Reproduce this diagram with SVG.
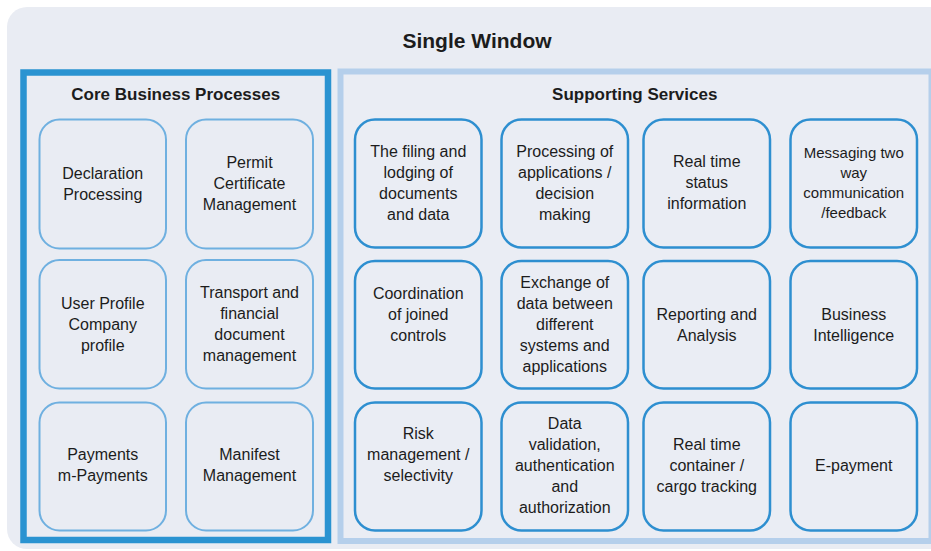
<svg xmlns="http://www.w3.org/2000/svg" width="931" height="551" viewBox="0 0 931 551">
<style>
  text { font-family: "Liberation Sans", Arial, sans-serif; fill: #1c1c1c; text-anchor: middle; }
  .t { font-size: 16px; }
  .sm { font-size: 15px; }
  .h { font-size: 17px; font-weight: bold; }
  .title { font-size: 21px; font-weight: bold; }
  .core { fill: none; stroke: #6fb0e0; stroke-width: 2; }
  .sup { fill: none; stroke: #2e8fd0; stroke-width: 2.5; }
</style>
<rect x="0" y="0" width="931" height="551" fill="#ffffff"/>
<g id="single-window">
  <rect x="7" y="7" width="944" height="542" rx="20" ry="20" fill="#e9ecf3"/>
  <text class="title" x="477" y="48">Single Window</text>
</g>
<g id="core-business-processes">
  <rect x="23.5" y="72.5" width="304.5" height="467.5" fill="#e9ecf3" stroke="#2a93d1" stroke-width="6.5"/>
  <text class="h" x="175.75" y="100">Core Business Processes</text>
</g>
<g id="supporting-services">
  <rect x="340.5" y="71.5" width="591" height="469.5" fill="#eaedf4" stroke="#b5cfeb" stroke-width="6"/>
  <text class="h" x="634.75" y="100">Supporting Services</text>
</g>
<g id="declaration-processing">
  <rect class="core" x="39.5" y="119.5" width="126.5" height="129" rx="20"/>
  <text class="t" x="102.75" y="179">Declaration</text>
  <text class="t" x="102.75" y="200">Processing</text>
</g>
<g id="permit-certificate-management">
  <rect class="core" x="186" y="119.5" width="127" height="129" rx="20"/>
  <text class="t" x="249.5" y="168">Permit</text>
  <text class="t" x="249.5" y="189">Certificate</text>
  <text class="t" x="249.5" y="210">Management</text>
</g>
<g id="user-profile">
  <rect class="core" x="39.5" y="260" width="126.5" height="128.5" rx="20"/>
  <text class="t" x="102.75" y="308.5">User Profile</text>
  <text class="t" x="102.75" y="329.5">Company</text>
  <text class="t" x="102.75" y="350.5">profile</text>
</g>
<g id="transport-financial">
  <rect class="core" x="186" y="260" width="127" height="128.5" rx="20"/>
  <text class="t" x="249.5" y="297.5">Transport and</text>
  <text class="t" x="249.5" y="318.5">financial</text>
  <text class="t" x="249.5" y="339.5">document</text>
  <text class="t" x="249.5" y="360.5">management</text>
</g>
<g id="payments">
  <rect class="core" x="39.5" y="402.5" width="126.5" height="128" rx="20"/>
  <text class="t" x="102.75" y="460">Payments</text>
  <text class="t" x="102.75" y="481">m-Payments</text>
</g>
<g id="manifest-management">
  <rect class="core" x="186" y="402.5" width="127" height="128" rx="20"/>
  <text class="t" x="249.5" y="460">Manifest</text>
  <text class="t" x="249.5" y="481">Management</text>
</g>
<g id="filing-lodging">
  <rect class="sup" x="355" y="119.5" width="126.5" height="128" rx="20"/>
  <text class="t" x="418.25" y="157">The filing and</text>
  <text class="t" x="418.25" y="178">lodging of</text>
  <text class="t" x="418.25" y="199">documents</text>
  <text class="t" x="418.25" y="220">and data</text>
</g>
<g id="processing-applications">
  <rect class="sup" x="501.5" y="119.5" width="126.5" height="128" rx="20"/>
  <text class="t" x="564.75" y="157">Processing of</text>
  <text class="t" x="564.75" y="178">applications /</text>
  <text class="t" x="564.75" y="199">decision</text>
  <text class="t" x="564.75" y="220">making</text>
</g>
<g id="real-time-status">
  <rect class="sup" x="643.5" y="119.5" width="126.5" height="128" rx="20"/>
  <text class="t" x="706.75" y="167">Real time</text>
  <text class="t" x="706.75" y="188">status</text>
  <text class="t" x="706.75" y="209">information</text>
</g>
<g id="messaging">
  <rect class="sup" x="790.5" y="119.5" width="126.5" height="128" rx="20"/>
  <text class="sm" x="853.75" y="157.5">Messaging two</text>
  <text class="sm" x="853.75" y="177.5">way</text>
  <text class="sm" x="853.75" y="197.5">communication</text>
  <text class="sm" x="853.75" y="217.5">/feedback</text>
</g>
<g id="coordination">
  <rect class="sup" x="355" y="261" width="126.5" height="127.5" rx="20"/>
  <text class="t" x="418.25" y="298.5">Coordination</text>
  <text class="t" x="418.25" y="319.5">of joined</text>
  <text class="t" x="418.25" y="340.5">controls</text>
</g>
<g id="exchange-of-data">
  <rect class="sup" x="501.5" y="261" width="126.5" height="127.5" rx="20"/>
  <text class="t" x="564.75" y="287.5">Exchange of</text>
  <text class="t" x="564.75" y="308.5">data between</text>
  <text class="t" x="564.75" y="329.5">different</text>
  <text class="t" x="564.75" y="350.5">systems and</text>
  <text class="t" x="564.75" y="371.5">applications</text>
</g>
<g id="reporting-analysis">
  <rect class="sup" x="643.5" y="261" width="126.5" height="127.5" rx="20"/>
  <text class="t" x="706.75" y="319.5">Reporting and</text>
  <text class="t" x="706.75" y="340.5">Analysis</text>
</g>
<g id="business-intelligence">
  <rect class="sup" x="790.5" y="261" width="126.5" height="127.5" rx="20"/>
  <text class="t" x="853.75" y="319.5">Business</text>
  <text class="t" x="853.75" y="340.5">Intelligence</text>
</g>
<g id="risk-management">
  <rect class="sup" x="355" y="402.5" width="126.5" height="128" rx="20"/>
  <text class="t" x="418.25" y="438.5">Risk</text>
  <text class="t" x="418.25" y="459.5">management /</text>
  <text class="t" x="418.25" y="480.5">selectivity</text>
</g>
<g id="data-validation">
  <rect class="sup" x="501.5" y="402.5" width="126.5" height="128" rx="20"/>
  <text class="t" x="564.75" y="428.5">Data</text>
  <text class="t" x="564.75" y="449.5">validation,</text>
  <text class="t" x="564.75" y="470.5">authentication</text>
  <text class="t" x="564.75" y="491.5">and</text>
  <text class="t" x="564.75" y="512.5">authorization</text>
</g>
<g id="container-tracking">
  <rect class="sup" x="643.5" y="402.5" width="126.5" height="128" rx="20"/>
  <text class="t" x="706.75" y="449.5">Real time</text>
  <text class="t" x="706.75" y="470.5">container /</text>
  <text class="t" x="706.75" y="491.5">cargo tracking</text>
</g>
<g id="e-payment">
  <rect class="sup" x="790.5" y="402.5" width="126.5" height="128" rx="20"/>
  <text class="t" x="853.75" y="471">E-payment</text>
</g>
<g id="connectors"></g>
</svg>
